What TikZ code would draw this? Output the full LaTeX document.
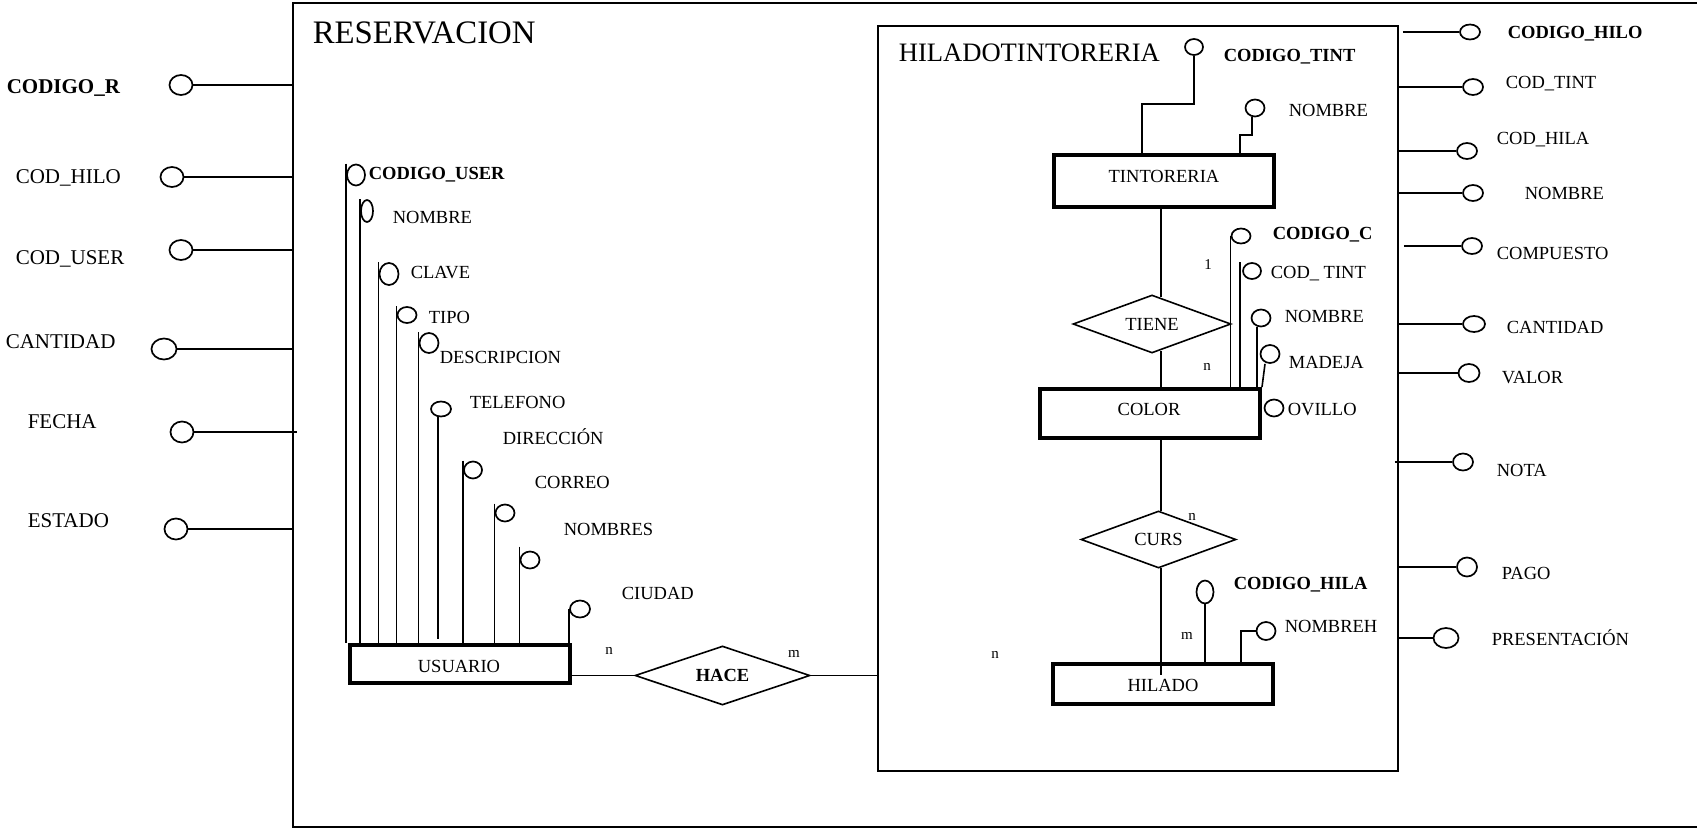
\documentclass[tikz,border=0pt]{standalone}
\usepackage{fontspec}
\setmainfont{Liberation Serif}
\usetikzlibrary{shapes.geometric}
\newcommand\erT{\fontsize{32.8}{38}\selectfont}
\newcommand\erH{\fontsize{26.6}{31}\selectfont}
\newcommand\erL{\fontsize{21}{25}\selectfont}
\newcommand\erM{\fontsize{18.5}{22}\selectfont}
\newcommand\erS{\fontsize{15}{18}\selectfont}
\begin{document}
\begin{tikzpicture}[x=1pt,y=-1pt,line width=1.6pt,
  ent/.style={draw,rectangle,line width=4pt,inner sep=0pt,minimum width=220pt},
  etxt/.style={inner sep=0pt,font=\erM},
  rel/.style={draw,diamond,line width=1.6pt,inner sep=0pt,aspect=2.7,font=\erM},
  att/.style={draw,ellipse,line width=1.7pt,inner sep=0pt},
  lb/.style={anchor=west,inner sep=0pt,text height=12.2pt,text depth=0pt,font=\erM},
  lbb/.style={lb,font=\erM\bfseries},
  lbL/.style={anchor=west,inner sep=0pt,text height=13.9pt,text depth=0pt,font=\erL},
  lbLb/.style={lbL,font=\erL\bfseries},
  card/.style={inner sep=0pt,font=\erS},
  frame/.style={line width=1.5pt}]
\useasboundingbox (0,0) rectangle (1697,829);

% ---------- RESERVACION aggregate ----------
\draw[frame] (1700,3) -- (293,3) -- (293,827) -- (1700,827);
\coordinate (resL) at (293,0);
\node[anchor=west,inner sep=0pt,text height=21.7pt,text depth=0pt,font=\erT] (tRes) at (312,33) {RESERVACION};

% attributes of RESERVACION (left)
\node[att,minimum width=23pt,minimum height=20pt] (rA1) at (181,85) {};
\node[lbLb] (rL1) at (6,87) {CODIGO\_R};
\draw (rA1.east) -- (rA1.east -| resL);
\node[att,minimum width=23pt,minimum height=20pt] (rA2) at (172,177) {};
\node[lbL] (rL2) at (15,177) {COD\_HILO};
\draw (rA2.east) -- (rA2.east -| resL);
\node[att,minimum width=23pt,minimum height=20pt] (rA3) at (181,250) {};
\node[lbL] (rL3) at (15,258) {COD\_USER};
\draw (rA3.east) -- (rA3.east -| resL);
\node[att,minimum width=25pt,minimum height=21pt] (rA4) at (164,349) {};
\node[lbL] (rL4) at (5,342) {CANTIDAD};
\draw (rA4.east) -- (rA4.east -| resL);
\node[att,minimum width=23pt,minimum height=21pt] (rA5) at (182,432) {};
\node[lbL] (rL5) at (27,422) {FECHA};
\draw (rA5.east) -- ([xshift=4pt]rA5.east -| resL);
\node[att,minimum width=23pt,minimum height=21pt] (rA6) at (176,529) {};
\node[lbL] (rL6) at (27,521) {ESTADO};
\draw (rA6.east) -- (rA6.east -| resL);

% ---------- HILADOTINTORERIA aggregate ----------
\node[draw,frame,rectangle,minimum width=520pt,minimum height=745pt,inner sep=0pt] (ht) at (1138,398.5) {};
\node[anchor=west,inner sep=0pt,text height=17.6pt,text depth=0pt,font=\erH] (tHt) at (898,52.5) {HILADOTINTORERIA};

% attributes of HILADOTINTORERIA (right)
\node[att,minimum width=20pt,minimum height=15pt] (hA1) at (1470,32) {};
\node[lbb] (hL1) at (1507,32) {CODIGO\_HILO};
\draw ([xshift=4pt]hA1.west -| ht.east) -- (hA1.west);
\node[att,minimum width=20pt,minimum height=16pt] (hA2) at (1473,87) {};
\node[lb] (hL2) at (1505,82) {COD\_TINT};
\draw (hA2.west -| ht.east) -- (hA2.west);
\node[att,minimum width=20pt,minimum height=16pt] (hA3) at (1467,151) {};
\node[lb] (hL3) at (1496,138) {COD\_HILA};
\draw (hA3.west -| ht.east) -- (hA3.west);
\node[att,minimum width=20pt,minimum height=16pt] (hA4) at (1473,193) {};
\node[lb] (hL4) at (1524,193) {NOMBRE};
\draw (hA4.west -| ht.east) -- (hA4.west);
\node[att,minimum width=20pt,minimum height=16pt] (hA5) at (1472,246) {};
\node[lb] (hL5) at (1496,253) {COMPUESTO};
\draw ([xshift=5pt]hA5.west -| ht.east) -- (hA5.west);
\node[att,minimum width=22pt,minimum height=16pt] (hA6) at (1474,324) {};
\node[lb] (hL6) at (1506,327) {CANTIDAD};
\draw (hA6.west -| ht.east) -- (hA6.west);
\node[att,minimum width=21pt,minimum height=18pt] (hA7) at (1469,373) {};
\node[lb] (hL7) at (1501,377) {VALOR};
\draw (hA7.west -| ht.east) -- (hA7.west);
\node[att,minimum width=20pt,minimum height=17pt] (hA8) at (1463,462) {};
\node[lb] (hL8) at (1496,470) {NOTA};
\draw ([xshift=-4pt]hA8.west -| ht.east) -- (hA8.west);
\node[att,minimum width=20pt,minimum height=19pt] (hA9) at (1467,567) {};
\node[lb] (hL9) at (1501,573) {PAGO};
\draw (hA9.west -| ht.east) -- (hA9.west);
\node[att,minimum width=25pt,minimum height=20pt] (hA10) at (1446,638) {};
\node[lb] (hL10) at (1491,639) {PRESENTACIÓN};
\draw (hA10.west -| ht.east) -- (hA10.west);

% ---------- entities and relationships inside HILADOTINTORERIA ----------
\node[ent,minimum height=52pt] (tint) at (1164,181) {};
\node[etxt] (tintT) at (1164,176) {TINTORERIA};
\node[ent,minimum height=49pt] (color) at (1150,413.5) {};
\node[etxt] (colorT) at (1149,409) {COLOR};
\node[ent,minimum height=40pt] (hil) at (1163,684) {};
\node[etxt] (hilT) at (1163,685) {HILADO};
\node[rel,minimum width=158pt,minimum height=58pt] (tiene) at (1152,324) {TIENE};
\node[rel,minimum width=155pt,minimum height=57pt] (curs) at (1158.5,539.5) {CURS};

\coordinate (sp) at (1161,0);
\draw (tint.south -| sp) -- ([yshift=-3pt]tiene.north -| sp);
\draw ([yshift=3pt]tiene.south -| sp) -- (color.north -| sp);
\draw (color.south -| sp) -- ([yshift=-1pt]curs.north -| sp);
\draw ([yshift=1pt]curs.south -| sp) -- ([yshift=-13pt]hil.north -| sp);

\node[card] (c1) at (1208,265) {1};
\node[card] (c2) at (1207,367) {n};
\node[card] (c3) at (1192,517) {n};
\node[card] (c4) at (1187,636) {m};
\node[card] (c5) at (995,655) {n};

% TINTORERIA attributes
\node[att,minimum width=18pt,minimum height=16pt] (tA1) at (1194,47) {};
\node[lbb] (tL1) at (1223,55) {CODIGO\_TINT};
\coordinate (tB1) at (1142,104);
\draw (tA1.south) |- (tB1) -- (tB1 |- tint.north);
\node[att,minimum width=19pt,minimum height=17pt] (tA2) at (1255,108) {};
\node[lb] (tL2) at (1288,110) {NOMBRE};
\coordinate (tB2) at (1240,135);
\draw ([xshift=-3pt]tA2.south) |- (tB2) -- (tB2 |- tint.north);

% COLOR attributes
\node[att,minimum width=19pt,minimum height=15pt] (cA1) at (1241,236) {};
\node[lbb] (cL1) at (1272,233) {CODIGO\_C};
\draw (cA1.west) -- (cA1.west |- color.north);
\node[att,minimum width=18pt,minimum height=16pt] (cA2) at (1252,271) {};
\node[lb] (cL2) at (1270,272) {COD\_ TINT};
\draw ([xshift=-2pt]cA2.west |- cA2.north) -- ([xshift=-2pt]cA2.west |- color.north);
\node[att,minimum width=19pt,minimum height=17pt] (cA3) at (1261,318) {};
\node[lb] (cL3) at (1284,316) {NOMBRE};
\draw ([xshift=-4pt]cA3.south) -- ([xshift=-4pt]cA3.south |- color.north);
\node[att,minimum width=19pt,minimum height=18pt] (cA4) at (1270,354) {};
\node[lb] (cL4) at (1288,362) {MADEJA};
\draw ([xshift=-5pt]cA4.south) -- ([xshift=-8pt]cA4.south |- color.north);
\node[att,minimum width=19pt,minimum height=17pt] (cA5) at (1274,408) {};
\node[lb] (cL5) at (1287,409) {OVILLO};

% HILADO attributes
\node[att,minimum width=17pt,minimum height=23pt] (iA1) at (1205,592) {};
\node[lbb] (iL1) at (1233,583) {CODIGO\_HILA};
\draw (iA1.south) -- (iA1.south |- hil.north);
\node[att,minimum width=19pt,minimum height=18pt] (iA2) at (1266,631) {};
\node[lb] (iL2) at (1284,626) {NOMBREH};
\coordinate (iB2) at (1241,0);
\draw (iA2.west) -| (iB2 |- hil.north);

% ---------- USUARIO and HACE ----------
\node[ent,minimum height=38pt] (usu) at (460,664) {};
\node[etxt] (usuT) at (459,666) {USUARIO};
\node[rel,minimum width=175pt,minimum height=59pt,font=\erM\bfseries] (hace) at (722.5,675.5) {HACE};
\draw (usu.east |- hace.west) -- (hace.west);
\draw (hace.east) -- (hace.east -| ht.west);
\node[card] (c6) at (609,651) {n};
\node[card] (c7) at (794,654) {m};

% USUARIO attributes
\node[att,minimum width=18pt,minimum height=21pt] (uA1) at (356,175) {};
\node[lbb] (uL1) at (368,173) {CODIGO\_USER};
\draw (uA1.west |- uA1.north) -- (uA1.west |- usu.north);
\node[att,minimum width=12pt,minimum height=22pt] (uA2) at (367,211) {};
\node[lb] (uL2) at (392,217) {NOMBRE};
\draw (uA2.west |- uA2.north) -- (uA2.west |- usu.north);
\node[att,minimum width=19pt,minimum height=22pt] (uA3) at (389,274) {};
\node[lb] (uL3) at (410,272) {CLAVE};
\draw (uA3.west |- uA3.north) -- (uA3.west |- usu.north);
\node[att,minimum width=19pt,minimum height=16pt] (uA4) at (407,315) {};
\node[lb] (uL4) at (428,317) {TIPO};
\draw (uA4.west |- uA4.north) -- (uA4.west |- usu.north);
\node[att,minimum width=19pt,minimum height=20pt] (uA5) at (429,343) {};
\node[lb] (uL5) at (439,357) {DESCRIPCION};
\draw (uA5.west |- uA5.north) -- (uA5.west |- usu.north);
\node[att,minimum width=20pt,minimum height=15pt] (uA6) at (441,409) {};
\node[lb] (uL6) at (469,402) {TELEFONO};
\draw ([xshift=-3pt]uA6.south) -- ([xshift=-3pt,yshift=4pt]uA6.south |- usu.north);
\node[att,minimum width=18pt,minimum height=17pt] (uA7) at (473,470) {};
\node[lb] (uL7) at (502,438) {DIRECCIÓN};
\draw (uA7.west |- uA7.north) -- (uA7.west |- usu.north);
\node[att,minimum width=19pt,minimum height=17pt] (uA8) at (505,513) {};
\node[lb] (uL8) at (534,482) {CORREO};
\draw (uA8.west |- uA8.north) -- (uA8.west |- usu.north);
\node[att,minimum width=19pt,minimum height=17pt] (uA9) at (530,560) {};
\node[lb] (uL9) at (563,529) {NOMBRES};
\draw ([yshift=4pt]uA9.west |- uA9.north) -- (uA9.west |- usu.north);
\node[att,minimum width=20pt,minimum height=17pt] (uA10) at (580,609) {};
\node[lb] (uL10) at (621,593) {CIUDAD};
\draw (uA10.west) -- (uA10.west |- usu.north);
\end{tikzpicture}
\end{document}
